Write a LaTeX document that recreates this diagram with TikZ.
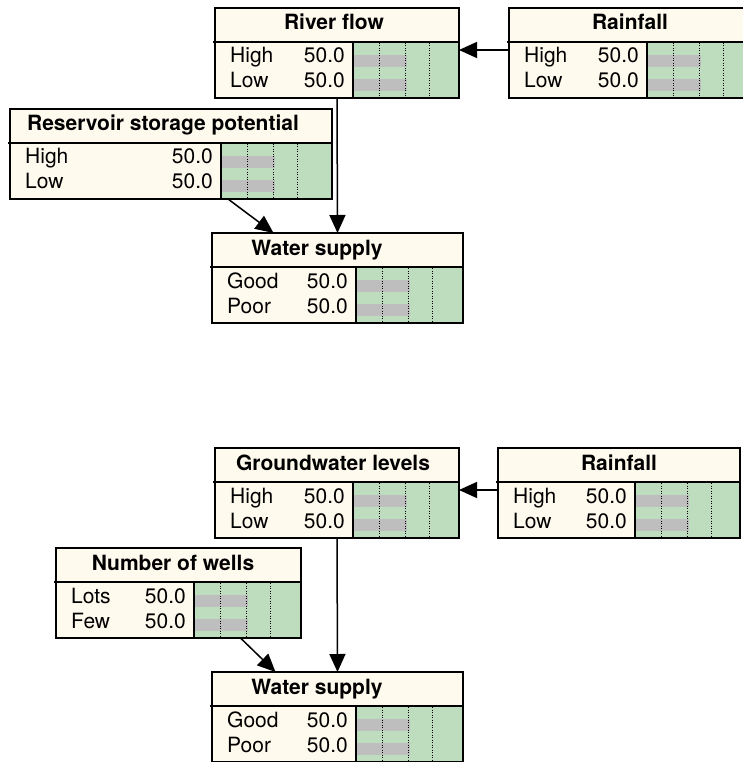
\documentclass[tikz,border=0pt]{standalone}
\usepackage{fontspec}
\setmainfont{TeX Gyre Heros}
\usetikzlibrary{arrows.meta}
\definecolor{titlecream}{RGB}{255,250,238}
\definecolor{monitorgreen}{RGB}{190,220,190}
\definecolor{bargray}{RGB}{190,190,190}

\tikzset{
  netbox/.style={draw, line width=1.6pt, minimum height=90pt, inner sep=0pt, outer sep=0pt, anchor=north west},
  titletext/.style={font=\fontsize{21}{25}\selectfont\bfseries, inner sep=0pt, anchor=base},
  statetext/.style={font=\fontsize{21}{25}\selectfont, inner sep=0pt},
  gridline/.style={line width=0.9pt, dash pattern=on 1pt off 1.5pt},
  link/.style={line width=1.5pt, -{Triangle[length=18pt,width=16pt]}}
}

% name, left, top, width, monitor start, title x, title, state 1, state 2
\newcommand\netnode[9]{%
  \begin{scope}[shift={(#2,#3)}]
    \fill[titlecream] (0,0) rectangle (#4,90);
    \fill[monitorgreen] (#5,34) rectangle (#4,90);
    \fill[bargray] (#5,47) rectangle ++(54,12);
    \fill[bargray] (#5,71) rectangle ++(54,12);
    \foreach \dx in {26,52,76}
      \draw[gridline] (#5+\dx,35) -- (#5+\dx,90);
    \draw[line width=1.6pt] (#5,34) rectangle (#4,90);
    \draw[line width=1.6pt] (-2,34) -- (#4,34);
    \node[titletext] at (#6,22) {#7};
    \node[statetext, anchor=base west] at (15,55) {#8};
    \node[statetext, anchor=base west] at (15,80) {#9};
    \node[statetext, anchor=base east] at (#5-8,55) {50.0};
    \node[statetext, anchor=base east] at (#5-8,80) {50.0};
  \end{scope}
  \node[netbox, minimum width=#4pt] (#1) at (#2,#3) {};}

\begin{document}
\begin{tikzpicture}[x=1pt,y=-1pt]
  \useasboundingbox (0,0) rectangle (743,762);
  \clip (0,0) rectangle (743,762);

  % surface water
  \netnode{river}{215}{8}{244}{138}{119}{River flow}{High}{Low}
  \netnode{rainA}{509}{8}{242}{138}{121}{Rainfall}{High}{Low}
  \netnode{reservoir}{10}{109}{322}{211}{153}{Reservoir storage potential}{High}{Low}
  \netnode{supplyA}{212}{233}{251}{144}{105}{Water supply}{Good}{Poor}

  \draw[link] ([yshift=3pt]rainA.west) -- ([yshift=3pt]river.east);
  \draw[link] (river.south) -- (supplyA.north);
  \draw[link] ([xshift=57pt]reservoir.south) -- ([xshift=-64pt]supplyA.north);

  % groundwater
  \netnode{ground}{215}{448}{244}{138}{118}{Groundwater levels}{High}{Low}
  \netnode{rainB}{498}{448}{242}{137}{121}{Rainfall}{High}{Low}
  \netnode{wells}{56}{548}{245}{138}{117}{Number of wells}{Lots}{Few}
  \netnode{supplyB}{212}{672}{251}{144}{105}{Water supply}{Good}{Poor}

  \draw[link] ([yshift=3pt]rainB.west) -- ([yshift=3pt]ground.east);
  \draw[link] (ground.south) -- (supplyB.north);
  \draw[link] ([xshift=62pt]wells.south) -- ([xshift=-62pt]supplyB.north);
\end{tikzpicture}
\end{document}
